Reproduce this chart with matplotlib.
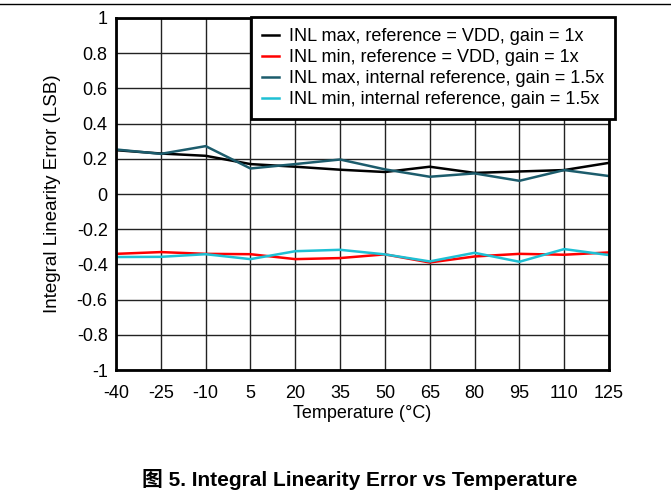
import matplotlib
matplotlib.use('Agg')
from matplotlib import pyplot as plt
from matplotlib.lines import Line2D

temps = [-40, -25, -10, 5, 20, 35, 50, 65, 80, 95, 110, 125]
max_vdd = [0.249, 0.230, 0.217, 0.170, 0.155, 0.138, 0.125, 0.155, 0.120, 0.128, 0.136, 0.177]
min_vdd = [-0.340, -0.330, -0.340, -0.342, -0.370, -0.364, -0.343, -0.389, -0.355, -0.340, -0.345, -0.332]
max_int = [0.253, 0.228, 0.272, 0.145, 0.170, 0.196, 0.140, 0.098, 0.117, 0.075, 0.136, 0.102]
min_int = [-0.358, -0.357, -0.342, -0.370, -0.325, -0.317, -0.343, -0.383, -0.334, -0.385, -0.313, -0.347]
labels = ['INL max, reference = VDD, gain = 1x',
          'INL min, reference = VDD, gain = 1x',
          'INL max, internal reference, gain = 1.5x',
          'INL min, internal reference, gain = 1.5x']
colors = ['#000000', '#ff0000', '#1c5c6c', '#1ec0d4']

plt.rcParams['font.family'] = ['Liberation Sans', 'Noto Sans CJK SC']
plt.rcParams['axes.unicode_minus'] = False

fig = plt.figure(figsize=(6.71, 4.97), dpi=100)
ax = fig.add_axes([0.1729, 0.2555, 0.7347, 0.7083])

for ys, c, lab in zip([max_vdd, min_vdd, max_int, min_int], colors, labels):
    ax.plot(temps, ys, color=c, lw=1.8, label=lab)

ax.set_xlim(-40, 125)
ax.set_ylim(-1, 1)
ax.set_xticks(temps)
ax.set_yticks([i / 10 for i in range(-10, 11, 2)])
ax.set_yticklabels(['-1', '-0.8', '-0.6', '-0.4', '-0.2', '0', '0.2', '0.4', '0.6', '0.8', '1'])
ax.tick_params(length=0, labelsize=13)
ax.tick_params(axis='x', pad=11)
ax.tick_params(axis='y', pad=6)
ax.grid(True, color='#222222', lw=1)
ax.set_axisbelow(True)
for s in ax.spines.values():
    s.set_linewidth(2)

ax.set_xlabel('Temperature (°C)', fontsize=13, labelpad=2)
ax.set_ylabel('Integral Linearity Error (LSB)', fontsize=13.5, labelpad=11)

leg = ax.legend(loc='upper right', bbox_to_anchor=(1.012, 1.003), borderaxespad=0,
                fontsize=13, frameon=True, fancybox=False, handlelength=0.9,
                handletextpad=0.55, labelspacing=0.22, borderpad=0.62)
leg.get_frame().set_edgecolor('black')
leg.get_frame().set_linewidth(2)
leg.get_frame().set_alpha(1)

fig.add_artist(Line2D([0, 1], [1 - 4 / 497, 1 - 4 / 497], color='black', lw=1))
fig.text(0.536, 1 - 480 / 497, '图 5. Integral Linearity Error vs Temperature',
         ha='center', va='center', fontsize=15, fontweight='bold')

fig.savefig('out.png', dpi=100)
